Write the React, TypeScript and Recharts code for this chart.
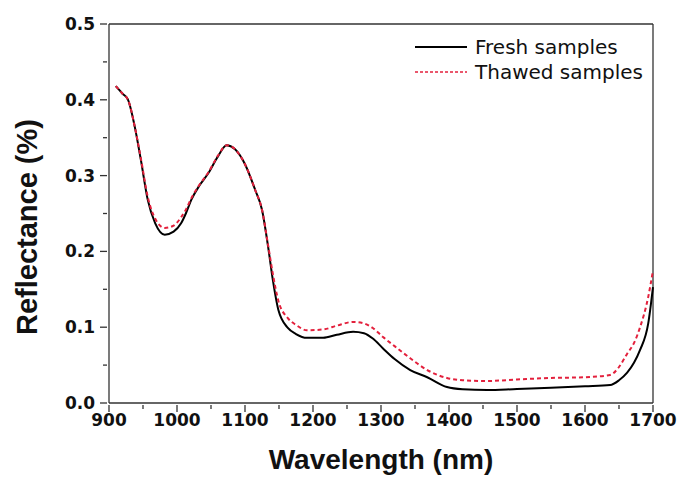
import React from 'react';
import { LineChart, Line, XAxis, YAxis, Label, ReferenceLine } from 'recharts';

// values
const wavelengths = [910, 920, 928, 938, 947, 957, 968, 982, 995, 1006, 1013, 1021, 1033, 1046, 1060, 1073, 1085, 1100, 1115, 1125, 1134, 1141, 1149, 1163, 1175, 1191, 1215, 1235, 1259, 1275, 1288, 1303, 1320, 1343, 1368, 1397, 1420, 1456, 1500, 1550, 1600, 1637, 1650, 1662, 1672, 1681, 1693, 1700];
const fresh = [0.418, 0.408, 0.4, 0.364, 0.32, 0.268, 0.237, 0.222, 0.226, 0.237, 0.25, 0.268, 0.287, 0.303, 0.325, 0.34, 0.335, 0.315, 0.281, 0.255, 0.206, 0.162, 0.123, 0.099, 0.091, 0.086, 0.086, 0.09, 0.094, 0.092, 0.085, 0.072, 0.058, 0.0435, 0.034, 0.021, 0.018, 0.017, 0.0185, 0.02, 0.022, 0.0237, 0.03, 0.04, 0.053, 0.07, 0.105, 0.153];
const thawed = [0.418, 0.408, 0.4, 0.364, 0.322, 0.272, 0.243, 0.231, 0.234, 0.245, 0.255, 0.27, 0.288, 0.304, 0.326, 0.34, 0.335, 0.315, 0.281, 0.255, 0.208, 0.17, 0.135, 0.112, 0.103, 0.096, 0.097, 0.102, 0.107, 0.105, 0.099, 0.087, 0.075, 0.059, 0.0435, 0.033, 0.03, 0.029, 0.031, 0.033, 0.034, 0.037, 0.0475, 0.065, 0.079, 0.1, 0.14, 0.175];
const xTicks = [900, 950, 1000, 1050, 1100, 1150, 1200, 1250, 1300, 1350, 1400, 1450, 1500, 1550, 1600, 1650, 1700];
const yTicks = [0, 0.05, 0.1, 0.15, 0.2, 0.25, 0.3, 0.35, 0.4, 0.45, 0.5];

const data = wavelengths.map((w, i) => ({ w, fresh: fresh[i], thawed: thawed[i] }));

const TICK_FONT = '"DejaVu Sans", sans-serif';
const TITLE_FONT = '"Liberation Sans", Arial, sans-serif';
const RED = '#e3203c';
const AXIS = '#333';

const XTick = (props: any) => {
  const { x, y, payload } = props;
  const major = payload.value % 100 === 0;
  return (
    <g>
      <line x1={x} x2={x} y1={y} y2={y + (major ? 7 : 4)} stroke={AXIS} strokeWidth={1.3} />
      {major && (
        <text x={x} y={y + 21} textAnchor="middle" fontFamily={TICK_FONT} fontWeight="bold" fontSize={17} fill="#111">
          {payload.value}
        </text>
      )}
    </g>
  );
};

const YTick = (props: any) => {
  const { x, y, payload } = props;
  const v = Math.round(payload.value * 100);
  const major = v % 10 === 0;
  return (
    <g>
      <line x1={x} x2={x - (major ? 7 : 4)} y1={y} y2={y} stroke={AXIS} strokeWidth={1.3} />
      {major && (
        <text x={x - 12} y={y + 6} textAnchor="end" fontFamily={TICK_FONT} fontWeight="bold" fontSize={17} fill="#111">
          {payload.value.toFixed(1)}
        </text>
      )}
    </g>
  );
};

export default function App() {
  return (
    <div style={{ position: 'absolute', left: 0, top: 0, width: 677, height: 477, background: '#fff' }}>
      <LineChart width={677} height={477} data={data} margin={{ top: 24, right: 24, left: 0, bottom: 0 }}>
        <XAxis
          dataKey="w"
          type="number"
          domain={[900, 1700]}
          ticks={xTicks}
          interval={0}
          tickLine={false}
          tickSize={0}
          tick={<XTick />}
          height={74}
          axisLine={{ stroke: AXIS, strokeWidth: 1.3 }}
        >
          <Label
            content={() => (
              <text x={381} y={469} textAnchor="middle" fontFamily={TITLE_FONT} fontWeight="bold" fontSize={28} fill="#111">
                Wavelength (nm)
              </text>
            )}
          />
        </XAxis>
        <YAxis
          domain={[0, 0.5]}
          ticks={yTicks}
          interval={0}
          tickLine={false}
          tickSize={0}
          tick={<YTick />}
          width={109}
          axisLine={{ stroke: AXIS, strokeWidth: 1.3 }}
        >
          <Label
            content={() => (
              <text
                x={37}
                y={227}
                transform="rotate(-90 37 227)"
                textAnchor="middle"
                fontFamily={TITLE_FONT}
                fontWeight="bold"
                fontSize={29}
                fill="#111"
              >
                Reflectance (%)
              </text>
            )}
          />
        </YAxis>
        <ReferenceLine y={0.5} stroke={AXIS} strokeWidth={1.3} />
        <ReferenceLine x={1700} stroke={AXIS} strokeWidth={1.3} />
        <Line
          type="monotone"
          dataKey="fresh"
          stroke="#000"
          strokeWidth={2}
          dot={false}
          isAnimationActive={false}
        />
        <Line
          type="monotone"
          dataKey="thawed"
          stroke={RED}
          strokeWidth={2}
          strokeDasharray="4 3"
          dot={false}
          isAnimationActive={false}
        />
      </LineChart>
      <svg width={240} height={64} style={{ position: 'absolute', left: 410, top: 28 }}>
        <line x1={5} x2={57} y1={19} y2={19} stroke="#000" strokeWidth={2} />
        <text x={65} y={26} fontFamily={TICK_FONT} fontSize={20} fill="#111">Fresh samples</text>
        <line x1={5} x2={57} y1={44} y2={44} stroke={RED} strokeWidth={1.5} strokeDasharray="3 2" />
        <text x={65} y={51} fontFamily={TICK_FONT} fontSize={20} fill="#111">Thawed samples</text>
      </svg>
    </div>
  );
}
